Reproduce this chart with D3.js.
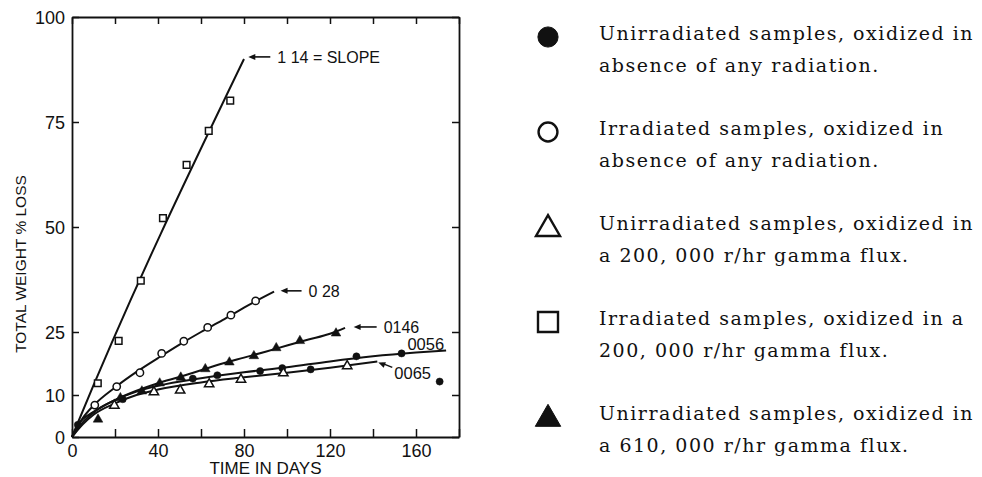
<!DOCTYPE html>
<html>
<head>
<meta charset="utf-8">
<script src="https://cdn.jsdelivr.net/npm/d3@7"></script>
<style>
  body { margin: 0; background: #fff; }
  svg { display: block; }
</style>
</head>
<body>
<script>
// data (days, % loss)
let squareDays = [12, 21.7, 32, 42.3, 53.3, 63.6, 73.6];
let squareLoss = [12.8, 22.9, 37.2, 52.1, 64.8, 72.9, 80.1];

let openCircleDays = [10.6, 20.8, 31.6, 41.7, 52, 63.1, 73.9, 85.4];
let openCircleLoss = [7.6, 12, 15.3, 19.9, 22.8, 26.1, 29, 32.4];

let fillTriDays = [12.1, 22.5, 32.5, 40.8, 50.6, 62, 73.2, 84.6, 95, 106, 122.8];
let fillTriLoss = [4.2, 9.3, 10.9, 12.8, 14.2, 16.2, 17.8, 19.3, 21.2, 22.9, 24.7];

let fillCircleDays = [2.7, 23.6, 56.2, 67.6, 87.5, 97.8, 111, 132.3, 153.3, 171];
let fillCircleLoss = [2.9, 9, 13.9, 14.7, 15.7, 16.4, 16.1, 19.2, 19.9, 13.2];

let openTriDays = [19.7, 38.1, 50.3, 63.8, 78.6, 98.3, 128];
let openTriLoss = [7.5, 10.7, 11.1, 12.6, 13.7, 15.2, 16.9];

// the hand drawn fitted curves
let squareFitDays = [0, 2, 80];
let squareFitLoss = [0, 2.5, 90];
let openCircleFitDays = [0, 5, 10, 20, 30, 40, 50, 60, 70, 80, 94];
let openCircleFitLoss = [0, 4.5, 7.5, 11.8, 15.5, 18.8, 22, 25, 27.8, 30.8, 34.6];
let fillTriFitDays = [0, 5, 10, 20, 30, 40, 50, 60, 70, 80, 90, 100, 110, 120, 127];
let fillTriFitLoss = [0, 3.5, 5.8, 8.8, 11, 12.8, 14.3, 15.9, 17.5, 18.9, 20.3, 21.8, 23.2, 24.6, 26];
let fillCircleFitDays = [0, 3, 10, 20, 30, 40, 60, 80, 100, 120, 140, 160, 174];
let fillCircleFitLoss = [0, 3, 6, 8.8, 10.8, 12.2, 14, 15.4, 16.6, 18, 19.2, 20.1, 20.6];
let openTriFitDays = [0, 5, 10, 20, 30, 40, 60, 80, 100, 120, 142];
let openTriFitLoss = [0, 3, 5.3, 8, 10, 11.3, 13, 14.2, 15.3, 16.5, 18];

// slope labels
let slopeLabels = ["1 14 = SLOPE", "0 28", "0146", "0056", "0065"];

// axis ticks
let xTicks = [0, 20, 40, 60, 80, 100, 120, 140, 160, 180];
let xTickLabels = [0, 40, 80, 120, 160];
let yTicks = [0, 10, 25, 50, 75, 100];

// legend
let legendLines = [
  ["Unirradiated samples, oxidized in", "absence of any radiation."],
  ["Irradiated samples, oxidized in", "absence of any radiation."],
  ["Unirradiated samples, oxidized in", "a 200, 000 r/hr gamma flux."],
  ["Irradiated samples, oxidized in a", "200, 000 r/hr gamma flux."],
  ["Unirradiated samples, oxidized in", "a 610, 000 r/hr gamma flux."]
];

let zip = (a, b) => a.map((d, i) => [d, b[i]]);

let svg = d3.select("body").append("svg")
  .attr("width", 982)
  .attr("height", 477);

let x = d3.scaleLinear().domain([0, 180]).range([72, 459]);
let y = d3.scaleLinear().domain([0, 100]).range([437, 17]);

let ink = "#111";
let sans = "'Liberation Sans', Arial, sans-serif";

// frame with ticks pointing inward
let axBottom = svg.append("g").attr("transform", "translate(0,437)")
  .call(d3.axisBottom(x).tickValues(xTicks).tickSizeInner(-8).tickSizeOuter(0).tickPadding(6)
    .tickFormat(d => xTickLabels.includes(d) ? d : ""));
let axTop = svg.append("g").attr("transform", "translate(0,17)")
  .call(d3.axisTop(x).tickValues(xTicks).tickSizeInner(-7).tickSizeOuter(0).tickFormat(""));
let axLeft = svg.append("g").attr("transform", "translate(72,0)")
  .call(d3.axisLeft(y).tickValues(yTicks).tickSizeInner(-7).tickSizeOuter(0).tickPadding(7));
let axRight = svg.append("g").attr("transform", "translate(459,0)")
  .call(d3.axisRight(y).tickValues(yTicks).tickSizeInner(-7).tickSizeOuter(0).tickFormat(""));

svg.selectAll(".domain").attr("stroke", ink).attr("stroke-width", 1.8);
svg.selectAll(".tick line").attr("stroke", ink).attr("stroke-width", 1.5);
svg.selectAll(".tick text").attr("fill", ink).style("font-family", sans).style("font-size", "18px");
axLeft.selectAll(".tick text").attr("dy", "0.36em");
axBottom.selectAll(".tick text").attr("dy", "0.75em");

svg.append("text")
  .attr("x", x(90)).attr("y", 474)
  .attr("text-anchor", "middle")
  .style("font-family", sans).style("font-size", "17px").attr("fill", ink)
  .text("TIME IN DAYS");

svg.append("text")
  .attr("transform", "translate(26,264) rotate(-90)")
  .attr("text-anchor", "middle")
  .style("font-family", sans).style("font-size", "15.5px").attr("fill", ink)
  .text("TOTAL WEIGHT % LOSS");

// fitted curves
let line = d3.line().x(d => x(d[0])).y(d => y(d[1])).curve(d3.curveMonotoneX);
let fits = [
  zip(squareFitDays, squareFitLoss),
  zip(openCircleFitDays, openCircleFitLoss),
  zip(fillTriFitDays, fillTriFitLoss),
  zip(fillCircleFitDays, fillCircleFitLoss),
  zip(openTriFitDays, openTriFitLoss)
];
svg.append("g").selectAll("path")
  .data(fits)
  .enter()
  .append("path")
  .attr("d", line)
  .attr("fill", "none")
  .attr("stroke", ink)
  .attr("stroke-width", 2);

// points
let series = [
  { pts: zip(fillCircleDays, fillCircleLoss), type: d3.symbolCircle, size: 40, open: false },
  { pts: zip(openTriDays, openTriLoss), type: d3.symbolTriangle, size: 38, open: true },
  { pts: zip(fillTriDays, fillTriLoss), type: d3.symbolTriangle, size: 40, open: false },
  { pts: zip(openCircleDays, openCircleLoss), type: d3.symbolCircle, size: 42, open: true },
  { pts: zip(squareDays, squareLoss), type: d3.symbolSquare, size: 44, open: true }
];
series.forEach(function(s){
  svg.append("g").selectAll("path")
    .data(s.pts)
    .enter()
    .append("path")
    .attr("transform", d => "translate(" + x(d[0]) + "," + y(d[1]) + ")")
    .attr("d", d3.symbol().type(s.type).size(s.size))
    .attr("fill", s.open ? "#fff" : ink)
    .attr("stroke", ink)
    .attr("stroke-width", s.open ? 1.5 : 0.5);
});

// slope annotations: arrow tip (day, loss), arrow length, text
let notes = [
  { tip: [82, 90.5], len: 22, label: slopeLabels[0] },
  { tip: [97, 34.8], len: 21, label: slopeLabels[1] },
  { tip: [131, 26.2], len: 23, label: slopeLabels[2] }
];
let arrowHead = "M0,0 L7,-3 L7,3 Z";
notes.forEach(function(n){
  let tx = x(n.tip[0]), ty = y(n.tip[1]);
  svg.append("line")
    .attr("x1", tx + 5).attr("y1", ty).attr("x2", tx + n.len).attr("y2", ty)
    .attr("stroke", ink).attr("stroke-width", 1.6);
  svg.append("path")
    .attr("d", arrowHead)
    .attr("transform", "translate(" + tx + "," + ty + ")")
    .attr("fill", ink);
  svg.append("text")
    .attr("x", tx + n.len + 7).attr("y", ty + 6)
    .style("font-family", sans).style("font-size", "16px").attr("fill", ink)
    .text(n.label);
});

// 0056 label sits over its curve end
svg.append("text")
  .attr("x", x(156)).attr("y", y(20.5) - 1)
  .style("font-family", sans).style("font-size", "16.5px").attr("fill", ink)
  .text(slopeLabels[3]);

// 0065 label with slanted arrow to the end of the open triangle curve
let endTri = [x(openTriFitDays[openTriFitDays.length - 1]), y(openTriFitLoss[openTriFitLoss.length - 1])];
svg.append("line")
  .attr("x1", endTri[0] + 5).attr("y1", endTri[1] + 2)
  .attr("x2", endTri[0] + 15).attr("y2", endTri[1] + 6)
  .attr("stroke", ink).attr("stroke-width", 1.5);
svg.append("path")
  .attr("d", arrowHead)
  .attr("transform", "translate(" + (endTri[0] + 1) + "," + (endTri[1] + 1) + ") rotate(22)")
  .attr("fill", ink);
svg.append("text")
  .attr("x", endTri[0] + 17).attr("y", endTri[1] + 18)
  .style("font-family", sans).style("font-size", "16.5px").attr("fill", ink)
  .text(slopeLabels[4]);

// legend on the right
let legendSymbols = [
  { type: d3.symbolCircle, size: 320, open: false },
  { type: d3.symbolCircle, size: 280, open: true },
  { type: d3.symbolTriangle, size: 250, open: true },
  { type: d3.symbolSquare, size: 400, open: true },
  { type: d3.symbolTriangle, size: 280, open: false }
];
let serif = "'DejaVu Serif', 'Liberation Serif', serif";
let legend = svg.append("g").attr("transform", "translate(548,37)");
let rows = legend.selectAll("g")
  .data(legendLines)
  .enter()
  .append("g")
  .attr("transform", (d, i) => "translate(0," + (i * 95) + ")");

rows.append("path")
  .attr("d", (d, i) => d3.symbol().type(legendSymbols[i].type).size(legendSymbols[i].size)())
  .attr("transform", (d, i) => legendSymbols[i].type === d3.symbolTriangle ? "translate(0,2)" : null)
  .attr("fill", (d, i) => legendSymbols[i].open ? "#fff" : ink)
  .attr("stroke", ink)
  .attr("stroke-width", (d, i) => legendSymbols[i].open ? 2.4 : 1);

rows.selectAll("text")
  .data(d => d)
  .enter()
  .append("text")
  .attr("x", 51)
  .attr("y", (d, j) => 3 + j * 32)
  .style("font-family", serif).style("font-size", "19px").attr("fill", ink)
  .text(d => d);

// spread the legend letters to the width of the scanned type
let probe = rows.select("text").node();
let natural = probe.getComputedTextLength();
let spacing = (375 - natural) / legendLines[0][0].length;
rows.selectAll("text").style("letter-spacing", spacing + "px");
</script>
</body>
</html>
